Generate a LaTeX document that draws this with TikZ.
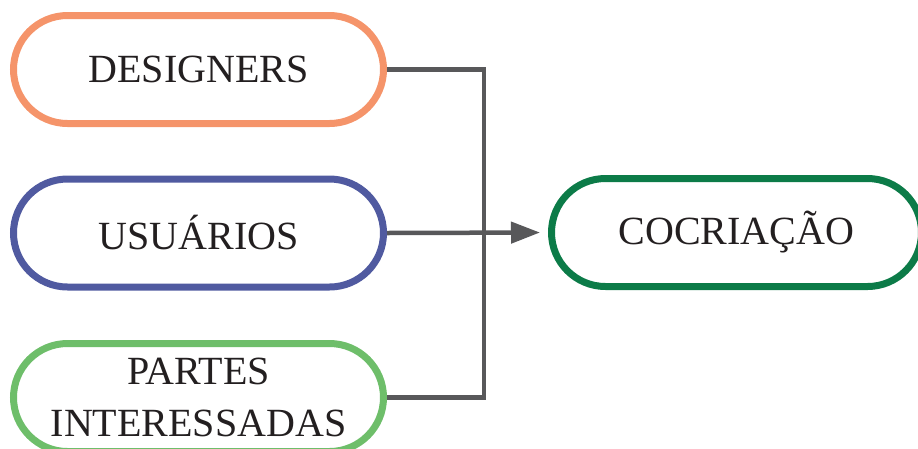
\documentclass[tikz,border=0pt]{standalone}
\usepackage{fontspec}
\setmainfont{Liberation Serif}
\usepackage{tikz}
\usetikzlibrary{arrows.meta}
\definecolor{orangeline}{RGB}{245,148,106}
\definecolor{blueline}{RGB}{80,90,160}
\definecolor{lightgreen}{RGB}{110,190,106}
\definecolor{darkgreen}{RGB}{12,123,72}
\definecolor{wire}{RGB}{88,88,90}
\definecolor{ink}{RGB}{35,31,32}

\begin{document}
\begin{tikzpicture}[
  x=1pt, y=-1pt,
  font=\fontsize{40}{52}\selectfont,
  pill/.style={draw, line width=7pt, fill=white, text=ink, rounded corners=54pt, minimum width=370pt, minimum height=108pt, align=center},
  link/.style={draw=wire, line width=4.5pt}
]
\useasboundingbox (0,0) rectangle (918,448);
\node[pill, draw=orangeline] (des) at (198.5,69.5) {DESIGNERS};
\node[pill, draw=blueline] (usu) at (198.5,233) {USUÁRIOS};
\node[pill, draw=lightgreen] (par) at (198.5,397.5) {PARTES\\INTERESSADAS};
\node[pill, draw=darkgreen] (coc) at (736.5,232.5) {COCRIAÇÃO};
\coordinate (junc) at (484,233);
\draw[link] (des.east) -| (junc) |- (par.east);
\draw[link, -{Triangle[length=29pt, width=21pt]}, shorten >=8pt] (usu.east) -- (coc.west);
\end{tikzpicture}
\end{document}
